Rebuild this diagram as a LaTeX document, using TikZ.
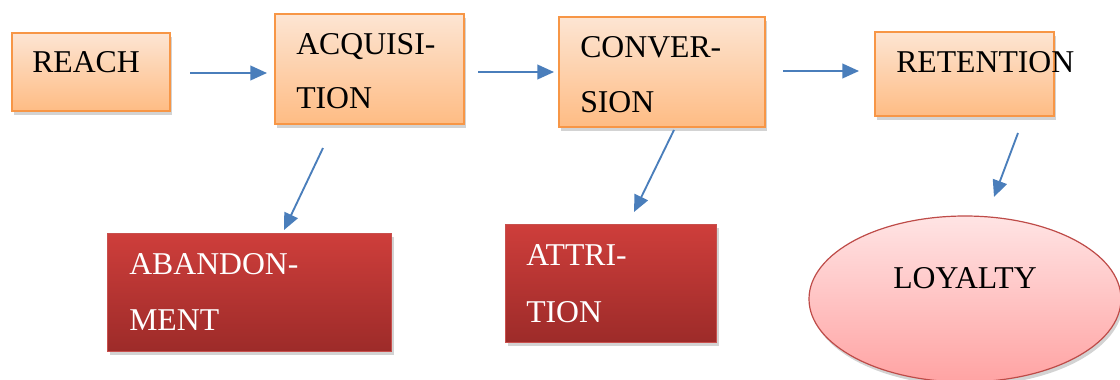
\documentclass[tikz,border=0pt]{standalone}
\usepackage{fontspec}
\setmainfont{Liberation Serif}
\usetikzlibrary{arrows.meta,shadows,shapes.geometric}

\definecolor{stageTop}{HTML}{FDE5D3}
\definecolor{stageBot}{HTML}{FEBC84}
\definecolor{stageLine}{HTML}{F79646}
\definecolor{lossTop}{HTML}{CE3E3B}
\definecolor{lossBot}{HTML}{9D2B29}
\definecolor{lossLine}{HTML}{C8504D}
\definecolor{winTop}{HTML}{FFE4E4}
\definecolor{winBot}{HTML}{FFA3A3}
\definecolor{winLine}{HTML}{BE4B48}
\definecolor{flow}{HTML}{4A7EBB}

\tikzset{
  sz/.style 2 args={minimum width=#1*0.75pt, minimum height=#2*0.75pt},
  softshadow/.style={drop shadow={opacity=0.35, shadow xshift=1.5pt, shadow yshift=-2.8pt}},
  boxbase/.style={rectangle, anchor=north west, inner sep=0pt, softshadow},
  stagebox/.style={boxbase, draw=stageLine, line width=1.2pt,
    top color=stageTop, bottom color=stageBot},
  lossbox/.style={boxbase, draw=lossLine, line width=0.8pt,
    top color=lossTop, bottom color=lossBot},
  winshape/.style={ellipse, inner sep=0pt, draw=winLine, line width=0.9pt,
    top color=winTop, bottom color=winBot, softshadow},
  lbl/.style={anchor=base west, inner sep=0pt, font=\fontsize{23.8}{28}\selectfont},
  darklbl/.style={lbl, text=black},
  lightlbl/.style={lbl, text=white},
  flowarrow/.style={draw=flow, line width=1.4pt,
    -{Triangle[length=12.5pt, width=11pt]}},
}

\begin{document}
\begin{tikzpicture}[x=0.75pt, y=-0.75pt]
\useasboundingbox (0,0) rectangle (1120,379);

% funnel stages
\node[stagebox, sz={158}{78}]  (reach) at (11,32)  {};
\node[stagebox, sz={189}{110}] (acq)   at (274,13) {};
\node[stagebox, sz={206}{110}] (conv)  at (558,16) {};
\node[stagebox, sz={179}{84}]  (ret)   at (874,31) {};

% outcomes
\node[lossbox, sz={284}{118}] (aban) at (107,233) {};
\node[lossbox, sz={211}{118}] (attr) at (505,224) {};
\node[winshape, minimum width=312*0.75pt, minimum height=166*0.75pt] (loyal) at (965,299) {};

% labels
\node[darklbl] (reach-t)  at (32,72)   {REACH};
\node[darklbl] (acq-t1)   at (296,54)  {ACQUISI-};
\node[darklbl] (acq-t2)   at (296,108) {TION};
\node[darklbl] (conv-t1)  at (580,57)  {CONVER-};
\node[darklbl] (conv-t2)  at (580,112) {SION};
\node[darklbl] (ret-t)    at (896,72)  {RETENTION};
\node[lightlbl] (aban-t1) at (129,274) {ABANDON-};
\node[lightlbl] (aban-t2) at (129,330) {MENT};
\node[lightlbl] (attr-t1) at (526,265) {ATTRI-};
\node[lightlbl] (attr-t2) at (526,322) {TION};
\node[darklbl, anchor=base] (loyal-t) at (965,288) {LOYALTY};

% arrow end points
\coordinate (r-out)  at (190,73);
\coordinate (a-in)   at (267,73);
\coordinate (a-out)  at (478,72);
\coordinate (c-in)   at (554,72);
\coordinate (c-out)  at (783,71);
\coordinate (t-in)   at (859,71);
\coordinate (a-down) at (323,148);
\coordinate (ab-in)  at (284,230);
\coordinate (c-down) at (674,130);
\coordinate (at-in)  at (634,212);
\coordinate (t-down) at (1018,133);
\coordinate (l-in)   at (994,197);

% connectors
\draw[flowarrow] (r-out) -- (a-in);
\draw[flowarrow] (a-out) -- (c-in);
\draw[flowarrow] (c-out) -- (t-in);
\draw[flowarrow] (a-down) -- (ab-in);
\draw[flowarrow] (c-down) -- (at-in);
\draw[flowarrow] (t-down) -- (l-in);
\end{tikzpicture}
\end{document}
